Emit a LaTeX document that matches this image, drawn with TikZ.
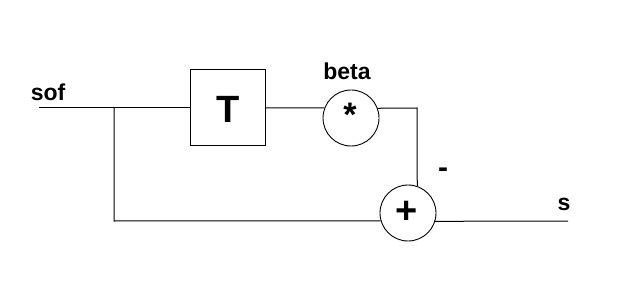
\documentclass[tikz,border=0pt]{standalone}
\usepackage{fontspec}
\setmainfont{Liberation Sans}
\begin{document}
\begin{tikzpicture}[x=1pt,y=-1pt,
  wire/.style={line width=1pt,black},
  blockbox/.style={draw,line width=1pt,minimum width=75pt,minimum height=76pt,inner sep=0pt},
  opcirc/.style={draw,circle,line width=0.9pt,minimum size=56pt,inner sep=0pt},
  lbl/.style={font=\fontsize{23}{23}\selectfont\bfseries,inner sep=0pt}]
\useasboundingbox (0,0) rectangle (623,283);
\fill[white] (0,0) rectangle (623,283);
\node[blockbox] (T) at (227.5,108) {};
\node[lbl,font=\fontsize{38}{38}\selectfont\bfseries] (Tt) at (228,109) {T};
\node[opcirc] (mul) at (351,118) {};
\node[lbl,font=\fontsize{34}{34}\selectfont\bfseries] (star) at (350,115) {*};
\node[opcirc] (plus) at (408,213) {};
\node[lbl,font=\fontsize{38}{38}\selectfont\bfseries] (pt) at (407,212) {+};
\node[lbl] (sof) at (48,92) {sof};
\node[lbl] (beta) at (347,71) {beta};
\node[lbl,font=\fontsize{30}{30}\selectfont\bfseries] (minus) at (443,173) {-};
\node[lbl] (s) at (564,204) {s};
\coordinate (in) at (39,108);
\coordinate (br) at (114,108);
\coordinate (bl) at (114,221);
\coordinate (cr) at (417,108);
\coordinate (out) at (568,221);
\draw[wire] (in) -- (T.west);
\draw[wire] (br) -- (bl) -- (plus.196.6);
\draw[wire] (T.east) -- (mul.159.1);
\draw[wire] (mul.20.9) -- (cr) -- (plus.71.25);
\draw[wire] (plus.343.4) -- (out);
\end{tikzpicture}
\end{document}
